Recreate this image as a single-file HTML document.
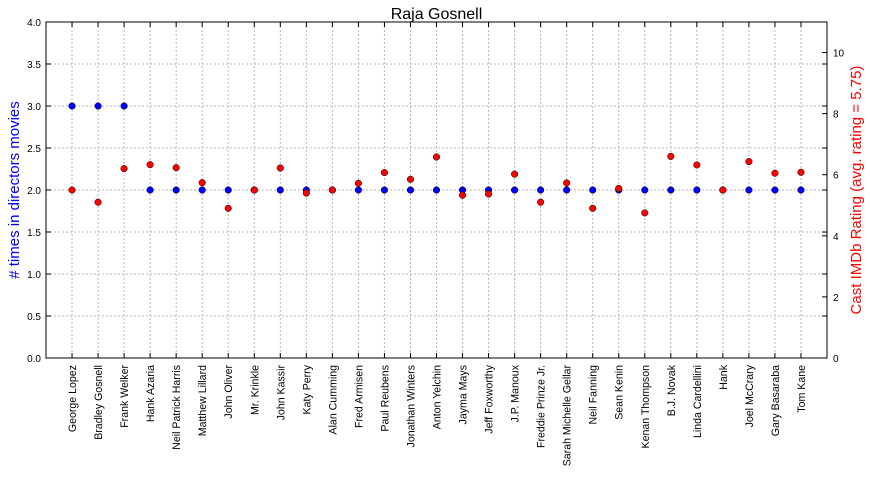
<!DOCTYPE html>
<html><head><meta charset="utf-8"><style>
body{margin:0;background:#fff;font-family:"Liberation Sans",sans-serif}
svg text{font-family:"Liberation Sans",sans-serif}
</style></head><body>
<svg id="c" width="870" height="476"></svg>
<script>
const categories=["George Lopez","Bradley Gosnell","Frank Welker","Hank Azaria","Neil Patrick Harris","Matthew Lillard","John Oliver","Mr. Krinkle","John Kassir","Katy Perry","Alan Cumming","Fred Armisen","Paul Reubens","Jonathan Winters","Anton Yelchin","Jayma Mays","Jeff Foxworthy","J.P. Manoux","Freddie Prinze Jr.","Sarah Michelle Gellar","Neil Fanning","Sean Kenin","Kenan Thompson","B.J. Novak","Linda Cardellini","Hank","Joel McCrary","Gary Basaraba","Tom Kane"];
const timesValues=[3,3,3,2,2,2,2,2,2,2,2,2,2,2,2,2,2,2,2,2,2,2,2,2,2,2,2,2,2];
const ratingValues=[5.5,5.1,6.2,6.33,6.23,5.74,4.9,5.5,6.22,5.4,5.5,5.72,6.07,5.85,6.58,5.33,5.37,6.02,5.1,5.73,4.9,5.55,4.75,6.6,6.32,5.5,6.43,6.05,6.08];
const leftTicks=["0.0","0.5","1.0","1.5","2.0","2.5","3.0","3.5","4.0"];
const rightTicks=[0,2,4,6,8,10];
const NS="http://www.w3.org/2000/svg",svg=document.getElementById('c');
const L=46,R=827,T=22,B=358;
const x=i=>L+(i+1)*(R-L)/(categories.length+1);
const yl=v=>B-v/4*(B-T);
const yr=v=>B-v/11*(B-T);
function el(t,a,p){const e=document.createElementNS(NS,t);for(const k in a)e.setAttribute(k,a[k]);(p||svg).appendChild(e);return e;}
const g=el('g',{});


leftTicks.forEach(t=>{const v=parseFloat(t),y=yl(v);
 el('line',{x1:L,x2:R,y1:y,y2:y,stroke:'#b8b8b8','stroke-dasharray':'2,2'},g);
 el('line',{x1:L,x2:L+5,y1:y,y2:y,stroke:'#000'});
 el('line',{x1:R,x2:R-5,y1:y,y2:y,stroke:'#000'});
 const tx=el('text',{x:L-5,y:y+4,'text-anchor':'end','font-size':'10'});tx.textContent=t;
 
 
});
rightTicks.forEach(v=>{const y=yr(v);
 el('line',{x1:R,x2:R-5,y1:y,y2:y,stroke:'#000'});
 const tx=el('text',{x:R+6,y:y+4,'font-size':'10'});tx.textContent=v;
 
 
});
categories.forEach((c,i)=>{const X=x(i);
 el('line',{x1:X,x2:X,y1:T,y2:B,stroke:'#b8b8b8','stroke-dasharray':'2,2'},g);
 el('line',{x1:X,x2:X,y1:B,y2:B-5,stroke:'#000'});
 el('line',{x1:X,x2:X,y1:T,y2:T+5,stroke:'#000'});
 const tx=el('text',{transform:`translate(${X+4},${B+7}) rotate(-90)`,'text-anchor':'end','font-size':'10.6'});tx.textContent=c;
 
 
});
const fr=el('rect',{x:L,y:T,width:R-L,height:B-T,fill:'none',stroke:'#000'});


timesValues.forEach((v,i)=>{const p=el('circle',{cx:x(i),cy:yl(v),r:3.3,fill:'#0000ff',stroke:'#000','stroke-width':'0.5'});
 
 });
ratingValues.forEach((v,i)=>{const p=el('circle',{cx:x(i),cy:yr(v),r:3.3,fill:'#ff0000',stroke:'#000','stroke-width':'0.5'});
 
 });
const t=el('text',{x:(L+R)/2,y:19,'text-anchor':'middle','font-size':'16'});t.textContent='Raja Gosnell';


const a1=el('text',{transform:`translate(19,${(T+B)/2}) rotate(-90)`,'text-anchor':'middle','font-size':'15',fill:'#0000ff'});a1.textContent='# times in directors movies';


const a2=el('text',{transform:`translate(861,${(T+B)/2}) rotate(-90)`,'text-anchor':'middle','font-size':'15',fill:'#ff0000'});a2.textContent='Cast IMDb Rating (avg. rating = 5.75)';


</script>
</body></html>
